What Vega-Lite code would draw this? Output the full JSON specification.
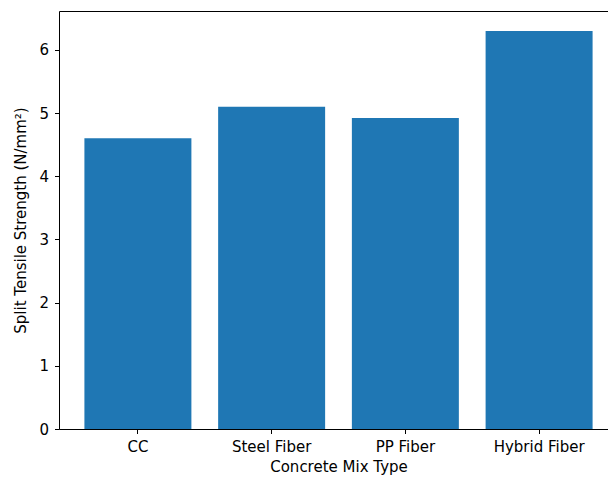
{
  "$schema": "https://vega.github.io/schema/vega-lite/v6.json",
  "autosize": "none",
  "width": 549,
  "height": 418,
  "padding": {"left": 59, "top": 11, "right": 0, "bottom": 49},
  "background": "white",
  "config": {
    "font": "DejaVu Sans",
    "view": {"stroke": null},
    "axis": {
      "domainColor": "black",
      "tickColor": "black",
      "tickSize": 4.5,
      "labelColor": "black",
      "titleColor": "black",
      "labelFont": "DejaVu Sans",
      "titleFont": "DejaVu Sans",
      "labelFontSize": 15,
      "titleFontSize": 15,
      "titleFontWeight": "normal",
      "grid": false
    }
  },
  "data": {
    "values": [
      {"mix": "CC", "strength": 4.6},
      {"mix": "Steel Fiber", "strength": 5.1},
      {"mix": "PP Fiber", "strength": 4.92},
      {"mix": "Hybrid Fiber", "strength": 6.3}
    ]
  },
  "layer": [
    {
      "mark": {"type": "bar", "color": "#1f77b4"},
      "encoding": {
        "x": {
          "field": "mix",
          "type": "nominal",
          "sort": null,
          "title": "Concrete Mix Type",
          "scale": {"paddingInner": 0.2, "paddingOuter": 0.19, "range": [0, 559]},
          "axis": {"labelAngle": 0, "labelPadding": 6, "titlePadding": 5}
        },
        "y": {
          "field": "strength",
          "type": "quantitative",
          "title": "Split Tensile Strength (N/mm²)",
          "scale": {"domain": [0, 6.615], "nice": false},
          "axis": {"values": [0, 1, 2, 3, 4, 5, 6], "format": "d", "labelPadding": 6, "titlePadding": 10}
        }
      }
    },
    {
      "mark": {"type": "bar", "opacity": 0},
      "encoding": {
        "x": {
          "field": "mix",
          "type": "nominal",
          "sort": null,
          "axis": {"orient": "top", "labels": false, "ticks": false, "title": null, "domain": true}
        },
        "y": {"field": "strength", "type": "quantitative"}
      }
    }
  ],
  "resolve": {"axis": {"x": "independent"}}
}
